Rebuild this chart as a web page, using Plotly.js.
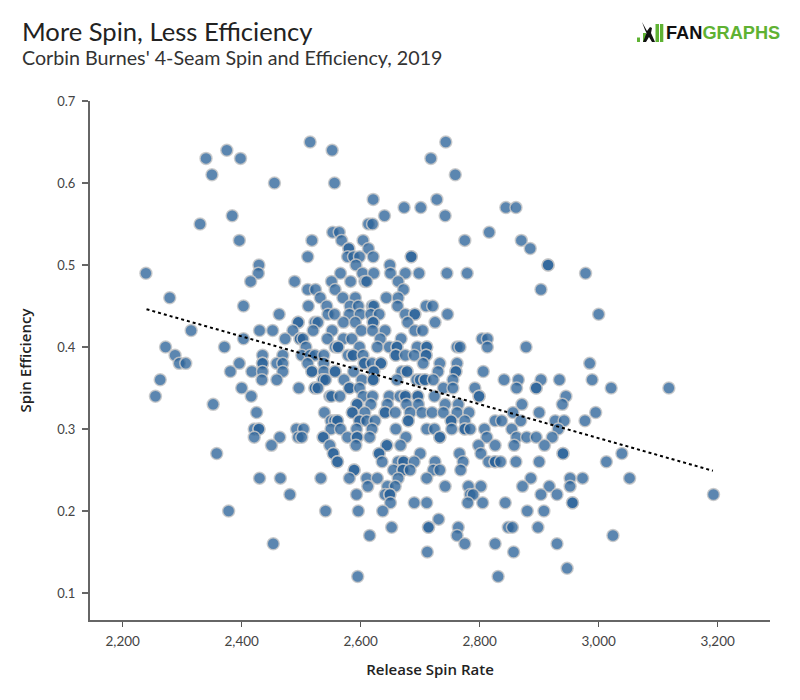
<!DOCTYPE html>
<html><head><meta charset="utf-8">
<script src="https://cdn.plot.ly/plotly-3.0.1.min.js"></script>
<style>html,body{margin:0;padding:0;background:#fff}</style></head>
<body><div id="chart" style="width:800px;height:700px"></div>
<script>
const efficiencyLevels=[0.65,0.64,0.63,0.61,0.60,0.58,0.57,0.56,0.55,0.54,0.53,0.52,0.51,0.50,0.49,0.48,0.47,0.46,0.45,0.44,0.43,0.42,0.41,0.40,0.39,0.38,0.37,0.36,0.35,0.34,0.33,0.32,0.31,0.30,0.29,0.28,0.27,0.26,0.25,0.24,0.23,0.22,0.21,0.20,0.19,0.18,0.17,0.16,0.15,0.13,0.12];
const spinRatesByLevel=[
[2515,2743],
[2375,2552],
[2340,2398,2718],
[2350,2759],
[2455,2556],
[2621,2728],
[2673,2701,2844,2861],
[2384,2640,2742],
[2330,2613,2620],
[2553,2564,2816],
[2396,2518,2568,2604,2775,2870],
[2580,2580,2613,2885],
[2511,2578,2588,2598,2621,2685,2685],
[2429,2592,2649,2915,2915],
[2239,2428,2566,2603,2622,2650,2675,2698,2745,2779,2978],
[2415,2489,2551,2583,2607,2610,2663],
[2511,2524,2557,2672,2903],
[2279,2532,2570,2591,2643,2663],
[2403,2512,2543,2582,2596,2619,2622,2662,2710,2721],
[2463,2545,2556,2581,2599,2617,2631,2675,2691,2691,2746,3000],
[2495,2495,2523,2528,2571,2591,2621,2621,2679,2725],
[2315,2430,2452,2486,2520,2552,2601,2620,2641,2691,2704],
[2403,2473,2498,2498,2503,2544,2571,2585,2633,2668,2804,2813],
[2272,2371,2508,2557,2562,2562,2598,2628,2648,2661,2661,2695,2711,2711,2762,2767,2813,2878],
[2288,2435,2469,2501,2515,2523,2538,2579,2587,2587,2604,2659,2659,2675,2690,2710,2710],
[2295,2306,2396,2435,2435,2459,2469,2511,2538,2606,2606,2619,2634,2634,2705,2733,2762,2985],
[2381,2417,2435,2469,2518,2518,2538,2557,2557,2588,2622,2622,2669,2678,2678,2730,2760,2760,2806],
[2263,2434,2459,2537,2537,2541,2572,2602,2621,2621,2661,2694,2700,2708,2708,2722,2755,2841,2865,2903,2934,2989],
[2400,2496,2523,2523,2528,2581,2581,2598,2739,2755,2792,2862,2895,2895,3021,3118],
[2255,2416,2548,2551,2565,2604,2620,2648,2666,2675,2675,2696,2696,2724,2799,2799,2945],
[2352,2594,2594,2617,2645,2677,2697,2742,2764,2871,2939],
[2425,2539,2586,2586,2607,2641,2641,2658,2683,2703,2720,2739,2762,2782,2856,2900,2995],
[2550,2556,2561,2561,2598,2598,2610,2624,2680,2680,2752,2752,2775,2826,2837,2869,2927,2942,2977],
[2421,2429,2429,2492,2504,2550,2566,2593,2619,2659,2711,2724,2753,2775,2775,2784,2808,2854,2932],
[2421,2464,2495,2501,2537,2537,2578,2594,2594,2615,2676,2733,2733,2812,2862,2879,2895,2922],
[2450,2548,2592,2644,2644,2667,2798,2826,2858,2909],
[2358,2554,2554,2631,2631,2700,2766,2802,2940,2940,3039],
[2561,2561,2636,2663,2672,2672,2690,2725,2772,2815,2826,2826,2835,2861,2900,3013],
[2589,2589,2655,2671,2671,2683,2722,2733,2768],
[2430,2465,2533,2581,2610,2628,2663,2711,2886,2952,2973,3052],
[2612,2645,2658,2742,2781,2802,2872,2917,2952],
[2481,2593,2641,2649,2649,2784,2789,2903,2930,3193],
[2650,2690,2711,2780,2805,2843,2956,2956],
[2378,2541,2596,2637,2880,2908],
[2731],
[2652,2714,2714,2764,2848,2855,2898],
[2615,2762,3024],
[2453,2775,2826,2930],
[2712,2857],
[2947],
[2595,2831]
];
const trendSpin=[2240,3192];
const trendEfficiency=[0.446,0.249];
const xTickValues=[2200,2400,2600,2800,3000,3200];
const yTickValues=[0.1,0.2,0.3,0.4,0.5,0.6,0.7];
const titleText="More Spin, Less Efficiency";
const subtitleText="Corbin Burnes' 4-Seam Spin and Efficiency, 2019";
const xTitle="Release Spin Rate";
const yTitle="Spin Efficiency";

const spin=[],eff=[];
spinRatesByLevel.forEach((row,i)=>row.forEach(v=>{spin.push(v);eff.push(efficiencyLevels[i]);}));
const green="#5fb233";
const fontFam="Lato, sans-serif";
const axisTitleFont="'Open Sans', sans-serif";
const logoFont="Liberation Sans, Arial, sans-serif";
const X=x=>(x-90)/680, Y=y=>(620-y)/519;
function bar(x0,x1,y0,y1,c){return {type:"rect",xref:"paper",yref:"paper",x0:X(x0),x1:X(x1),y0:Y(y1),y1:Y(y0),fillcolor:c,line:{width:0},layer:"above"};}
const figure=[[642,22],[647,31],[650,27],[652,28],[651,33],[655,42],[652,42],[649,37],[646,42],[643,42],[646.5,33],[645,30]];
const shapes=[
 bar(637,640,37.5,42,green),
 bar(643,646,33,42,green),
 bar(655.5,659,24,42,green),
 bar(660,663.3,24,42,green),
 {type:"path",xref:"paper",yref:"paper",layer:"above",fillcolor:"#111",line:{width:0},
  path:figure.map((p,i)=>(i?"L ":"M ")+X(p[0])+" "+Y(p[1])).join(" ")+" Z"}
];
const anno=(text,x,y,size,color)=>({text,xref:"paper",yref:"paper",x:X(x),y:Y(y),xanchor:"left",yanchor:"middle",showarrow:false,font:{family:fontFam,size,color}});
Plotly.newPlot("chart",[
 {type:"scatter",mode:"markers",x:spin,y:eff,hoverinfo:"x+y",
  marker:{size:12,color:"rgba(42,98,152,0.77)",line:{color:"rgba(200,200,200,0.85)",width:1.5}}},
 {type:"scatter",mode:"lines",x:trendSpin,y:trendEfficiency,hoverinfo:"skip",
  line:{color:"#000",width:2,dash:"dot"}}
],{
 width:800,height:700,showlegend:false,paper_bgcolor:"#fff",plot_bgcolor:"#fff",
 margin:{l:90,r:30,t:101,b:80,pad:0},
 font:{family:fontFam,color:"#444",size:13},
 xaxis:{range:[2145,3288],tickvals:xTickValues,tickformat:",",ticks:"outside",ticklen:5,tickwidth:1,tickcolor:"#555",showgrid:false,zeroline:false,showline:true,linecolor:"#666",linewidth:2,ticklabelstandoff:3,tickfont:{family:fontFam,size:13.5,color:"#444"},
  title:{text:xTitle,standoff:16,font:{family:axisTitleFont,size:15,color:"#222",weight:600}}},
 yaxis:{range:[0.067,0.7],tickvals:yTickValues,tickformat:".1f",ticks:"outside",ticklen:6,tickwidth:2,tickcolor:"#666",showgrid:false,zeroline:false,showline:true,linecolor:"#666",linewidth:2,ticklabelstandoff:4,tickfont:{family:fontFam,size:13,color:"#444"},
  title:{text:yTitle,standoff:22,font:{family:axisTitleFont,size:15,color:"#222",weight:600}}},
 shapes,
 annotations:[
  anno(titleText,20,31,25.6,"#222"),
  anno(subtitleText,20,58,19.7,"#333"),
  {text:"<b>FAN<span style='color:"+green+"'>GRAPHS</span></b>",xref:"paper",yref:"paper",x:X(664),y:Y(33),xanchor:"left",yanchor:"middle",showarrow:false,font:{family:logoFont,size:18.2,color:"#111"}}
 ]
},{displayModeBar:false});
</script></body></html>
